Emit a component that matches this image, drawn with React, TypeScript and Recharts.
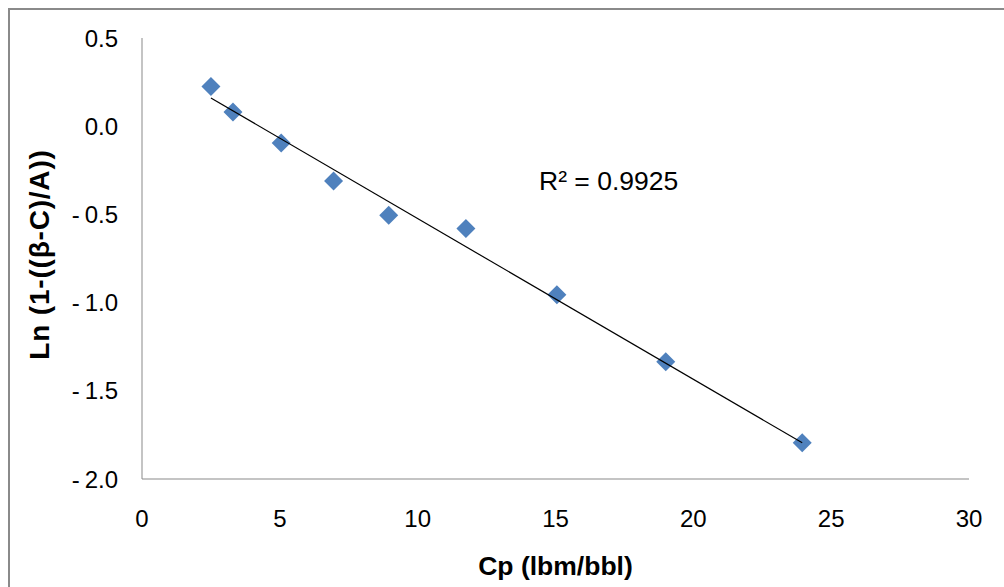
import React from "react";
import { ScatterChart, Scatter, XAxis, YAxis, Label } from "recharts";

const cp = [2.5, 3.3, 5.05, 6.95, 8.95, 11.75, 15.05, 19.0, 23.95];
const lnRatio = [0.225, 0.08, -0.095, -0.31, -0.505, -0.58, -0.955, -1.335, -1.795];
const trendCp = [2.5, 23.95];
const trendLn = [0.16, -1.795];
const xTicks = [0, 5, 10, 15, 20, 25, 30];
const yTicks = [-2, -1.5, -1, -0.5, 0, 0.5];

const points = cp.map((x, i) => ({ x, y: lnRatio[i] }));
const trend = trendCp.map((x, i) => ({ x, y: trendLn[i] }));

const FONT = "'Liberation Sans', Arial, sans-serif";
const AXIS = "#898989";

const Diamond = (props: any) => {
  const { cx, cy } = props;
  const r = 9.5;
  return (
    <polygon
      points={`${cx},${cy - r} ${cx + r},${cy} ${cx},${cy + r} ${cx - r},${cy}`}
      fill="#4F81BD"
    />
  );
};

const YTitle = (props: any) => {
  const { viewBox } = props;
  const cy = viewBox.y + viewBox.height / 2 - 4;
  const bx = 49;
  return (
    <text
      x={bx}
      y={cy}
      transform={`rotate(-90, ${bx}, ${cy})`}
      textAnchor="middle"
      fontSize={28}
      fontWeight="bold"
      fontFamily={FONT}
      letterSpacing={0.8}
      fill="#000"
    >
      Ln (1-((β-C)/A))
    </text>
  );
};

// excel draws a little gap after the minus sign
const fmtY = (v: number) => v.toFixed(1).replace("-", "-\u2009");

export default function App() {
  return (
    <div style={{ position: "absolute", left: 0, top: 0, width: 1004, height: 587, overflow: "hidden", background: "#fff" }}>
      {/* chart frame, right and bottom edges fall outside the picture */}
      <div style={{ position: "absolute", left: 8, top: 8, width: 1020, height: 620, border: "2px solid #8a8a8a" }} />

      <ScatterChart width={1004} height={587} margin={{ top: 38, right: 35, left: 0, bottom: 0 }}>
        <XAxis
          type="number"
          dataKey="x"
          domain={[0, 30]}
          ticks={xTicks}
          height={108}
          tickLine={false}
          tickMargin={25}
          stroke={AXIS}
          tick={{ fill: "#000", fontSize: 24, fontFamily: FONT }}
        >
          <Label
            value="Cp (lbm/bbl)"
            position="insideBottom"
            offset={12}
            style={{ fontSize: 26.5, fontWeight: "bold", fontFamily: FONT, fill: "#000" }}
          />
        </XAxis>
        <YAxis
          type="number"
          dataKey="y"
          domain={[-2, 0.5]}
          ticks={yTicks}
          width={142}
          tickLine={false}
          tickMargin={18}
          stroke={AXIS}
          tickFormatter={fmtY}
          tick={{ fill: "#000", fontSize: 24, fontFamily: FONT }}
        >
          <Label content={<YTitle />} />
        </YAxis>
        <Scatter data={points} shape={<Diamond />} isAnimationActive={false} />
        <Scatter
          data={trend}
          line={{ stroke: "#000", strokeWidth: 1.2 }}
          shape={() => null}
          isAnimationActive={false}
        />
      </ScatterChart>

      <div
        style={{
          position: "absolute",
          left: 539,
          top: 168,
          fontSize: 26.5,
          lineHeight: "26.5px",
          fontFamily: FONT,
          color: "#000",
          whiteSpace: "nowrap",
        }}
      >
        R² = 0.9925
      </div>
    </div>
  );
}
